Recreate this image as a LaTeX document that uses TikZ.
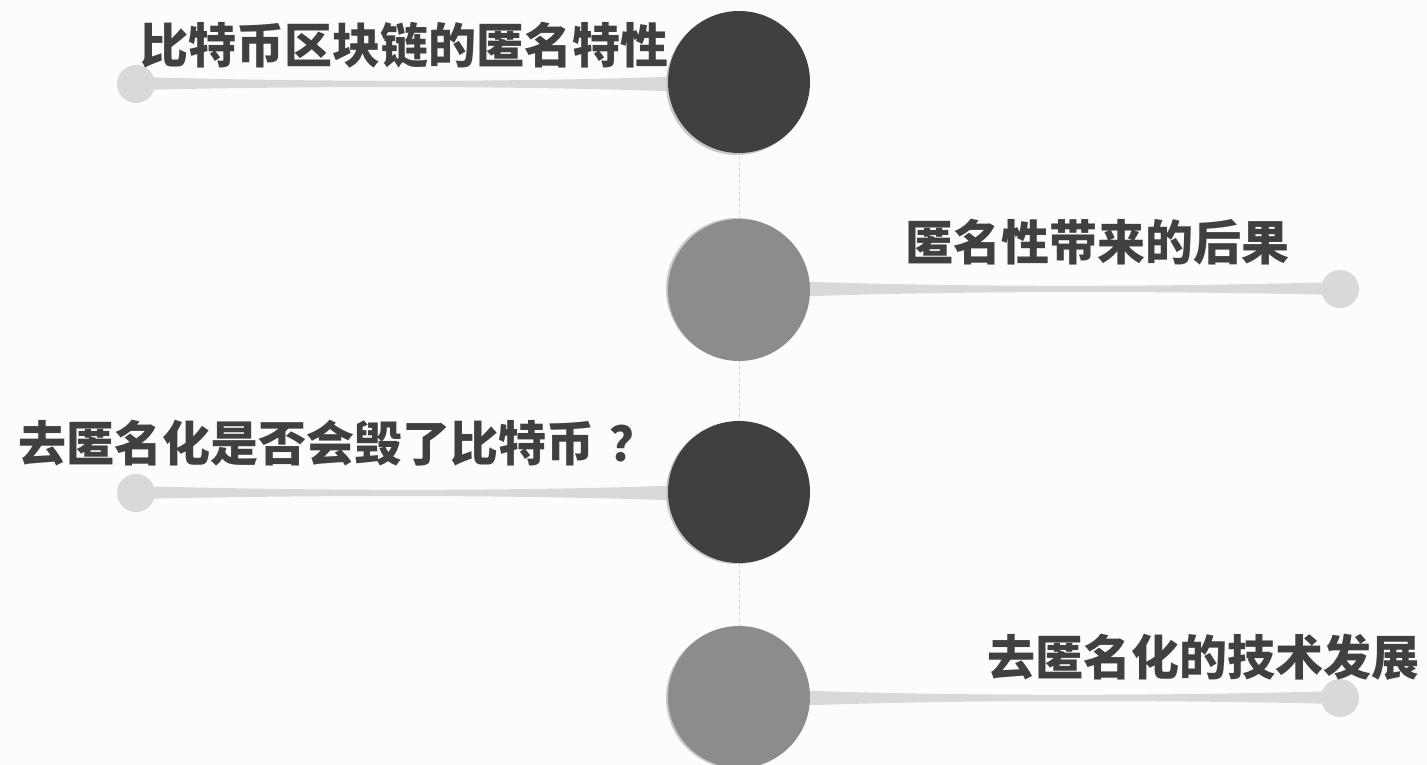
\documentclass[tikz,border=0pt]{standalone}
\usepackage{fontspec}
\newfontfamily\cjk{Noto Sans CJK SC}
\usetikzlibrary{calc}
\definecolor{bg}{HTML}{FCFCFC}
\definecolor{darkc}{HTML}{404040}
\definecolor{midc}{HTML}{8C8C8C}
\definecolor{lightc}{HTML}{D9D9D9}
\definecolor{shadowc}{HTML}{C8C8C8}
\definecolor{txt}{HTML}{404040}
\definecolor{dashc}{HTML}{CFCFCF}
\tikzset{
  big/.style={circle, minimum size=142pt, inner sep=0pt},
  dot/.style={circle, fill=lightc, minimum size=38pt, inner sep=0pt},
  lbl/.style={text=txt, font=\cjk\bfseries\fontsize{48}{48}\selectfont, inner sep=0pt},
  band/.style={fill=lightc, draw=none}
}
\begin{document}
\begin{tikzpicture}[x=1pt,y=-1pt]
\useasboundingbox (0,0) rectangle (1427,765);
\fill[bg] (0,0) rectangle (1427,765);
% anchors
\coordinate (c1) at (739,84);
\coordinate (c2) at (739,289);
\coordinate (c3) at (739,493);
\coordinate (c4) at (739,698);
\node[dot] (s1) at (136,84) {};
\node[dot] (s2) at (1340,289) {};
\node[dot] (s3) at (136,493) {};
\node[dot] (s4) at (1340,698) {};
% dashed spine
\draw[dashc, dashed, line width=0.8pt] (c1) -- (c4);
% tapered connectors (thick at the ends, thin in the middle)
\foreach \c/\s/\d in {c1/s1/-1, c3/s3/-1, c2/s2/1, c4/s4/1}{
  \fill[band] ($(\c)+(0,-10)$)
      .. controls ($(\c)!0.3!(\s)+(0,-1.5)$) and ($(\c)!0.68!(\s)+(0,-1.5)$) .. ($(\s.center)+(0,-7)$)
      -- ($(\s.center)+(0,6)$)
      .. controls ($(\c)!0.68!(\s)+(0,1.5)$) and ($(\c)!0.3!(\s)+(0,1.5)$) .. ($(\c)+(0,10)$) -- cycle;
}
% labels
\node[lbl] (t1) at (404,45) {比特币区块链的匿名特性};
\node[lbl] (t2) at (1097,242) {匿名性带来的后果};
\node[lbl] (t3) at (338.5,443) {去匿名化是否会毁了比特币\kern15pt？};
\node[lbl] (t4) at (1203,657) {去匿名化的技术发展};
% big circles with soft shadow
\foreach \c in {c1,c2,c3,c4}{\fill[shadowc] ($(\c)+(-2,0)$) circle (71);}
\node[big, fill=darkc] (b1) at ($(c1)+(0,-2)$) {};
\node[big, fill=midc] (b2) at ($(c2)+(0,1)$) {};
\node[big, fill=darkc] (b3) at ($(c3)+(0,-1)$) {};
\node[big, fill=midc] (b4) at ($(c4)+(0,-1)$) {};
\end{tikzpicture}
\end{document}
